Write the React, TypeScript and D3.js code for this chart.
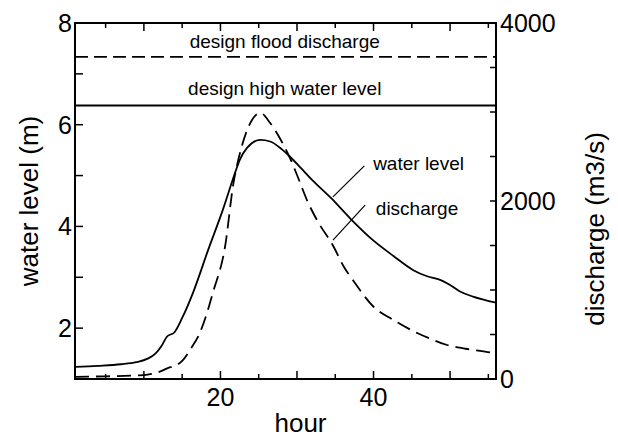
import React from "react";
import * as d3 from "d3";

// ---- data ----
const wlHours = [1, 4, 7, 9, 10.5, 11.5, 12.3, 13, 14, 15, 16.4, 18.4, 20.3, 21.9, 22.5, 23.5, 25.2, 26.5, 28, 29.1, 30.5, 32, 34.5, 37, 40, 42.6, 45.2, 47, 48.7, 50, 51.3, 53, 56];
const wlValues = [1.24, 1.26, 1.29, 1.33, 1.4, 1.5, 1.65, 1.83, 1.92, 2.2, 2.69, 3.54, 4.32, 5.05, 5.3, 5.55, 5.7, 5.67, 5.52, 5.37, 5.15, 4.91, 4.55, 4.15, 3.72, 3.42, 3.14, 3.02, 2.95, 2.85, 2.72, 2.62, 2.5];

const qHours = [1, 5, 9, 10.5, 12, 13.2, 14, 15.1, 16.2, 17.3, 18.2, 19, 20.6, 21.7, 22.6, 23.9, 25.2, 26.5, 27.8, 29.1, 30.2, 31.3, 32.6, 34.7, 36.2, 37.3, 40, 42.6, 45.7, 47.5, 49.6, 52, 55.6, 56];
const qValues = [25, 30, 40, 50, 80, 125, 145, 213, 350, 517, 730, 966, 1486, 2200, 2554, 2876, 2990, 2876, 2700, 2480, 2250, 2011, 1787, 1500, 1250, 1112, 812, 663, 517, 450, 382, 340, 292, 285];

const designHighWaterLevel = 6.38; // m
const designFloodDischarge = 3620; // m3/s

const xDomain = [1, 56];
const wlDomain = [1, 8];
const qDomain = [0, 4000];

const xTickLabels = [20, 40];
const xTicksAll = [5, 10, 15, 20, 25, 30, 35, 40, 45, 50, 55];
const wlTickLabels = [2, 4, 6, 8];
const wlTicksAll = [2, 3, 4, 5, 6, 7];
const qTickLabels = [0, 2000, 4000];
const qTicksAll = [500, 1000, 1500, 2000, 2500, 3000, 3500];

const labelDesignQ = "design flood discharge";
const labelDesignWL = "design high water level";
const labelWL = "water level";
const labelQ = "discharge";
const xTitle = "hour";
const leftTitle = "water level (m)";
const rightTitle = "discharge (m3/s)";

// annotation anchors in data units (hour, water level m)
const wlTextPos = [39.95, 5.11];
const qTextPos = [40.3, 4.22];
const wlPointer = [[38.8, 5.19], [34.7, 4.58]];
const qPointer = [[38.9, 4.42], [34.7, 3.73]];
const designLabelHour = 28.4;

export default function App() {
  const W = 618, H = 439;
  const m = { left: 75, right: 496, top: 23, bottom: 379 };
  const x = d3.scaleLinear().domain(xDomain).range([m.left, m.right]);
  const yL = d3.scaleLinear().domain(wlDomain).range([m.bottom, m.top]);
  const yR = d3.scaleLinear().domain(qDomain).range([m.bottom, m.top]);

  const wlLine = d3.line<number>()
    .x((_, i) => x(wlHours[i]))
    .y((d) => yL(d))
    .curve(d3.curveMonotoneX);
  const qLine = d3.line<number>()
    .x((_, i) => x(qHours[i]))
    .y((d) => yR(d))
    .curve(d3.curveMonotoneX);

  const font = "'Liberation Sans', Arial, Helvetica, sans-serif";
  const sw = 1.8;

  return (
    <svg width={W} height={H} style={{ position: "absolute", left: 0, top: 0, background: "#fff" }} fontFamily={font}>
      <rect x={0} y={0} width={W} height={H} fill="#fff" />
      {/* frame */}
      <rect x={m.left} y={m.top} width={m.right - m.left} height={m.bottom - m.top} fill="none" stroke="#000" strokeWidth={2} />

      {/* x ticks (bottom & top, inward) */}
      {xTicksAll.map((t) => {
        const len = t % 10 === 0 ? 8 : 5;
        return (
          <g key={"xt" + t} stroke="#000" strokeWidth={1.5}>
            <line x1={x(t)} x2={x(t)} y1={m.bottom} y2={m.bottom - len} />
            <line x1={x(t)} x2={x(t)} y1={m.top} y2={m.top + len} />
          </g>
        );
      })}
      {xTickLabels.map((t) => (
        <text key={"xl" + t} x={x(t)} y={m.bottom + 27} fontSize={25} textAnchor="middle">{t}</text>
      ))}

      {/* left ticks */}
      {wlTicksAll.map((t) => (
        <line key={"lt" + t} x1={m.left} x2={m.left + 8} y1={yL(t)} y2={yL(t)} stroke="#000" strokeWidth={1.5} />
      ))}
      {wlTickLabels.map((t) => (
        <text key={"ll" + t} x={m.left - 3} y={yL(t) + 9} fontSize={25} textAnchor="end">{t}</text>
      ))}

      {/* right ticks */}
      {qTicksAll.map((t) => (
        <line key={"rt" + t} x1={m.right} x2={m.right - 6} y1={yR(t)} y2={yR(t)} stroke="#000" strokeWidth={1.5} />
      ))}
      {qTickLabels.map((t) => (
        <text key={"rl" + t} x={m.right + 4} y={yR(t) + 9} fontSize={25} textAnchor="start">{t}</text>
      ))}

      {/* design lines */}
      <line x1={m.left} x2={m.right} y1={yR(designFloodDischarge)} y2={yR(designFloodDischarge)} stroke="#000" strokeWidth={sw} strokeDasharray="13,6" />
      <line x1={m.left} x2={m.right} y1={yL(designHighWaterLevel)} y2={yL(designHighWaterLevel)} stroke="#000" strokeWidth={2} />
      <text x={x(designLabelHour)} y={yR(designFloodDischarge) - 9} fontSize={19} textAnchor="middle">{labelDesignQ}</text>
      <text x={x(designLabelHour)} y={yL(designHighWaterLevel) - 10} fontSize={19} textAnchor="middle">{labelDesignWL}</text>

      {/* series */}
      <path d={wlLine(wlValues) || ""} fill="none" stroke="#000" strokeWidth={sw} />
      <path d={qLine(qValues) || ""} fill="none" stroke="#000" strokeWidth={sw} strokeDasharray="14,7" />

      {/* annotations */}
      <text x={x(wlTextPos[0])} y={yL(wlTextPos[1])} fontSize={19}>{labelWL}</text>
      <text x={x(qTextPos[0])} y={yL(qTextPos[1])} fontSize={19}>{labelQ}</text>
      <line x1={x(wlPointer[0][0])} y1={yL(wlPointer[0][1])} x2={x(wlPointer[1][0])} y2={yL(wlPointer[1][1])} stroke="#000" strokeWidth={1.2} />
      <line x1={x(qPointer[0][0])} y1={yL(qPointer[0][1])} x2={x(qPointer[1][0])} y2={yL(qPointer[1][1])} stroke="#000" strokeWidth={1.2} />

      {/* axis titles */}
      <text x={(m.left + m.right) / 2 + 15} y={432} fontSize={26} textAnchor="middle">{xTitle}</text>
      <text transform={`translate(38, ${(m.top + m.bottom) / 2}) rotate(-90)`} fontSize={26} textAnchor="middle">{leftTitle}</text>
      <text transform={`translate(604, ${(m.top + m.bottom) / 2 + 28}) rotate(-90)`} fontSize={26} textAnchor="middle">{rightTitle}</text>
    </svg>
  );
}
